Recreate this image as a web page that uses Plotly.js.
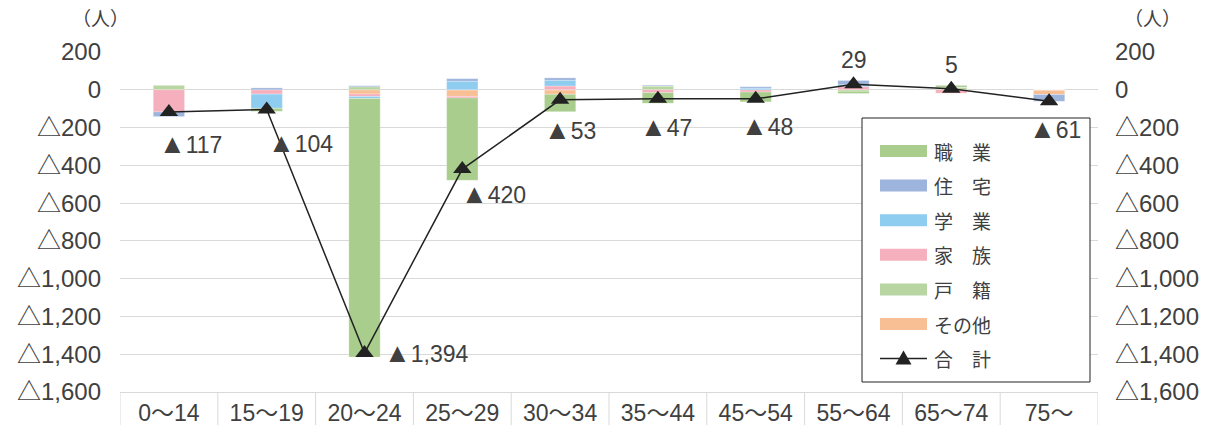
<!DOCTYPE html>
<html>
<head>
<meta charset="utf-8">
<script src="https://cdn.plot.ly/plotly-3.0.1.min.js"></script>
<style>
  html, body { margin: 0; padding: 0; background: #fff; }
  #chart { width: 1220px; height: 425px; }
</style>
</head>
<body>
<div id="chart"></div>
<script>
// 年齢階級別・理由別の転入超過数（人）
const categories = ['0～14', '15～19', '20～24', '25～29', '30～34', '35～44', '45～54', '55～64', '65～74', '75～'];

const shokugyo = [0, -16, -1369, -435, -92, -56, -52, -12, 10, 0];     // 職業
const jutaku   = [-25, 10, 5, 14, 13, 4, 8, 22, 0, -36];               // 住宅
const gakugyo  = [0, -75, -10, 45, 30, 0, 8, 10, 0, 0];                // 学業
const kazoku   = [-117, -23, -14, -9, 20, -15, -12, 17, -18, 0];       // 家族
const koseki   = [25, 0, 16, 0, 0, 20, 0, -8, 13, 0];                  // 戸籍
const sonota   = [0, 0, -22, -35, -24, 0, 0, 0, 0, -25];               // その他
const total    = [-117, -104, -1394, -420, -53, -47, -48, 29, 5, -61]; // 合計

const yTicks = [200, 0, -200, -400, -600, -800, -1000, -1200, -1400, -1600];

// ---- styling ----
const FONT = '"Liberation Sans", "Noto Sans CJK JP", sans-serif';
const CJK = '"Noto Sans CJK JP", sans-serif';
const TEXT = '#404040';
const GRID = '#d9d9d9';
const colors = {
  shokugyo: '#a9cd8c',
  jutaku:   '#9db4dc',
  gakugyo:  '#8ecdf0',
  kazoku:   '#f6afbc',
  koseki:   '#b8d6a2',
  sonota:   '#f9bf94'
};

// label offsets (px) for the total labels
const labelShift = [
  [22, -32], [34, -34], [61, 0], [31, -25], [10, -30],
  [8, -28], [11, -27], [0, 24], [0, 24], [6, -28]
];

function fmt(v) {
  const s = Math.abs(v).toLocaleString('en-US');
  return v < 0 ? '△' + s : s;
}
function fmtLabel(v) {
  const s = Math.abs(v).toLocaleString('en-US');
  return v < 0 ? '<span style="font-size:27px">▲</span>' + s : s;
}

// stacking order: first trace sits next to the zero line
const series = [
  { name: 'その他', y: sonota,   c: colors.sonota },
  { name: '戸　籍', y: koseki,   c: colors.koseki },
  { name: '家　族', y: kazoku,   c: colors.kazoku },
  { name: '学　業', y: gakugyo,  c: colors.gakugyo },
  { name: '住　宅', y: jutaku,   c: colors.jutaku },
  { name: '職　業', y: shokugyo, c: colors.shokugyo }
];

const traces = series.map(s => ({
  type: 'bar',
  name: s.name,
  x: categories,
  y: s.y,
  marker: { color: s.c, line: { color: 'rgba(255,255,255,0.5)', width: 0.5 } },
  showlegend: false,
  hoverinfo: 'skip'
}));

traces.push({
  type: 'scatter',
  mode: 'lines+markers',
  name: '合　計',
  x: categories,
  y: total,
  yaxis: 'y2',
  line: { color: '#222', width: 1.5 },
  marker: { symbol: 'triangle-up', size: 16, color: '#222' },
  showlegend: false,
  hoverinfo: 'skip'
});

// plot area in pixels
const PL = 120, PR = 1098, PT = 52, PB = 392;
const px = v => (v - PL) / (PR - PL);
const py = v => (PB - v) / (PB - PT);

const shapes = [];
// category table: vertical separators below the axis
for (let i = 0; i <= categories.length; i++) {
  shapes.push({
    type: 'line', xref: 'x', yref: 'paper',
    x0: i - 0.5, x1: i - 0.5, y0: 0, y1: py(425),
    line: { color: GRID, width: 1 }
  });
}

// legend box
const LB = { x0: 862, x1: 1090, y0: 118, y1: 382 };
shapes.push({
  type: 'rect', xref: 'paper', yref: 'paper', layer: 'above',
  x0: px(LB.x0), x1: px(LB.x1), y0: py(LB.y1), y1: py(LB.y0),
  fillcolor: '#fff', line: { color: '#222', width: 1 }
});

const legendItems = [
  { name: '職　業', c: colors.shokugyo },
  { name: '住　宅', c: colors.jutaku },
  { name: '学　業', c: colors.gakugyo },
  { name: '家　族', c: colors.kazoku },
  { name: '戸　籍', c: colors.koseki },
  { name: 'その他', c: colors.sonota },
  { name: '合　計', line: true }
];
const annotations = [];
const rowY0 = 151, rowStep = 34.6, swL = 880, swR = 927;
legendItems.forEach((it, i) => {
  const cy = rowY0 + i * rowStep;
  if (it.line) {
    shapes.push({
      type: 'line', xref: 'paper', yref: 'paper', layer: 'above',
      x0: px(swL), x1: px(swR), y0: py(cy), y1: py(cy),
      line: { color: '#222', width: 1.5 }
    });
    const cx = (swL + swR) / 2;
    shapes.push({
      type: 'path', xref: 'paper', yref: 'paper', layer: 'above',
      path: `M${px(cx - 8)},${py(cy + 6)} L${px(cx + 8)},${py(cy + 6)} L${px(cx)},${py(cy - 8)} Z`,
      fillcolor: '#222', line: { color: '#222', width: 0 }
    });
  } else {
    shapes.push({
      type: 'rect', xref: 'paper', yref: 'paper', layer: 'above',
      x0: px(swL), x1: px(swR), y0: py(cy + 6), y1: py(cy - 6),
      fillcolor: it.c, line: { width: 0 }
    });
  }
  annotations.push({
    xref: 'paper', yref: 'paper', x: px(932), y: py(cy),
    xanchor: 'left', yanchor: 'middle', showarrow: false,
    text: it.name, font: { family: CJK, size: 19, color: TEXT }
  });
});

// unit labels
annotations.push({
  xref: 'paper', yref: 'paper', x: px(100), y: py(18),
  xanchor: 'center', yanchor: 'middle', showarrow: false,
  text: '（人）', font: { family: CJK, size: 19, color: TEXT }
});
annotations.push({
  xref: 'paper', yref: 'paper', x: px(1152), y: py(18),
  xanchor: 'center', yanchor: 'middle', showarrow: false,
  text: '（人）', font: { family: CJK, size: 19, color: TEXT }
});

// total labels
total.forEach((v, i) => {
  annotations.push({
    xref: 'x', yref: 'y2', x: categories[i], y: v,
    xshift: labelShift[i][0], yshift: labelShift[i][1],
    xanchor: 'center', yanchor: 'middle', showarrow: false,
    text: fmtLabel(v), font: { family: FONT, size: 23, color: TEXT }
  });
});

const yCommon = {
  range: [-1600, 200],
  tickmode: 'array',
  tickvals: yTicks,
  ticktext: yTicks.map(fmt),
  ticks: '',
  tickfont: { family: FONT, size: 24, color: TEXT },
  zeroline: false,
  showline: false,
  automargin: false,
  fixedrange: true
};

const layout = {
  width: 1220,
  height: 425,
  margin: { l: PL, r: 1220 - PR, t: PT, b: 425 - PB, pad: 0 },
  paper_bgcolor: '#fff',
  plot_bgcolor: '#fff',
  barmode: 'relative',
  bargap: 0.68,
  showlegend: false,
  font: { family: FONT, color: TEXT },
  xaxis: {
    type: 'category',
    range: [-0.5, categories.length - 0.5],
    showgrid: false,
    showline: true,
    linecolor: GRID,
    linewidth: 1,
    ticks: '',
    tickfont: { family: FONT, size: 23, color: TEXT },
    ticklabelstandoff: 0,
    automargin: false,
    fixedrange: true
  },
  yaxis: Object.assign({}, yCommon, {
    showgrid: true, gridcolor: GRID, gridwidth: 1,
    side: 'left', ticklabelstandoff: 18
  }),
  yaxis2: Object.assign({}, yCommon, {
    overlaying: 'y', side: 'right', showgrid: false,
    ticklabelstandoff: 16
  }),
  shapes: shapes,
  annotations: annotations
};

Plotly.newPlot('chart', traces, layout, { staticPlot: true, displayModeBar: false });
</script>
</body>
</html>
